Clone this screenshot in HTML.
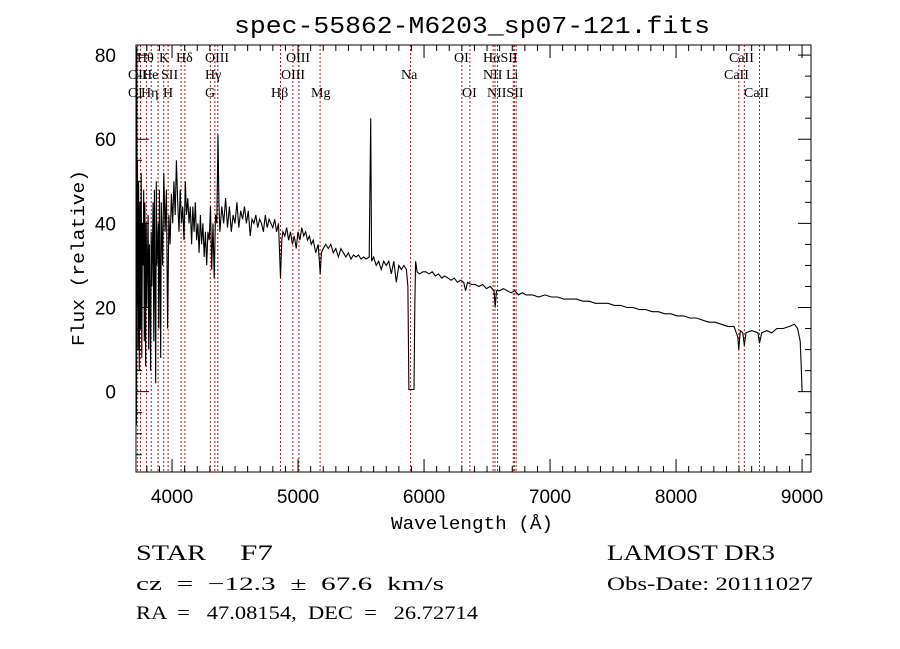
<!DOCTYPE html>
<html><head><meta charset="utf-8"><style>
html,body{margin:0;padding:0;background:#fff;}
svg{display:block;}
text{font-family:"Liberation Sans",sans-serif;fill:#000;}
.lbl{font-family:"Liberation Serif",serif;font-size:14px;}
.serif{font-family:"Liberation Serif",serif;}
.mono{font-family:"Liberation Mono",monospace;}
</style></head><body>
<svg id="chart" width="900" height="649" viewBox="0 0 900 649" xmlns="http://www.w3.org/2000/svg">
<rect width="900" height="649" fill="#fff"/>
<text class="mono" x="472" y="33" text-anchor="middle" font-size="24" textLength="476" lengthAdjust="spacingAndGlyphs">spec-55862-M6203_sp07-121.fits</text>
<g id="lines"></g>
<g id="linelabels">
<text class="lbl" x="137" y="62">Hθ</text><text class="lbl" x="159" y="62">K</text><text class="lbl" x="176" y="62">Hδ</text><text class="lbl" x="205" y="62">OIII</text><text class="lbl" x="286" y="62">OIII</text><text class="lbl" x="454" y="62">OI</text><text class="lbl" x="483" y="62">HαSII</text><text class="lbl" x="729" y="62">CaII</text>
<text class="lbl" x="128" y="79">OII</text><text class="lbl" x="142" y="79">He</text><text class="lbl" x="161" y="79">SII</text><text class="lbl" x="205" y="79">Hγ</text><text class="lbl" x="281" y="79">OIII</text><text class="lbl" x="401" y="79">Na</text><text class="lbl" x="483" y="79">NII</text><text class="lbl" x="506" y="79">Li</text><text class="lbl" x="724" y="79">CaII</text>
<text class="lbl" x="128" y="97">OI</text><text class="lbl" x="141" y="97">Hη</text><text class="lbl" x="163" y="97">H</text><text class="lbl" x="205" y="97">G</text><text class="lbl" x="271" y="97">Hβ</text><text class="lbl" x="311" y="97">Mg</text><text class="lbl" x="462" y="97">OI</text><text class="lbl" x="487" y="97">NIISII</text><text class="lbl" x="744" y="97">CaII</text>
</g>
<g id="ticks"></g>
<path id="spec" fill="none" stroke="#000" stroke-width="1.1"/>
<rect x="136" y="45" width="675" height="427" fill="none" stroke="#000" stroke-width="1"/>
<g id="ticklabels" font-size="19"></g>
<text class="mono" x="472" y="529" text-anchor="middle" font-size="18" textLength="162" lengthAdjust="spacingAndGlyphs">Wavelength (Å)</text>
<text class="mono" x="0" y="0" font-size="18" text-anchor="middle" transform="translate(84,258) rotate(-90)" textLength="176" lengthAdjust="spacingAndGlyphs">Flux (relative)</text>
<text class="serif" x="136" y="560" font-size="22" textLength="70" lengthAdjust="spacingAndGlyphs">STAR</text>
<text class="serif" x="240" y="560" font-size="22" textLength="33" lengthAdjust="spacingAndGlyphs">F7</text>
<text class="serif" x="607" y="560" font-size="22" textLength="168" lengthAdjust="spacingAndGlyphs">LAMOST DR3</text>
<text class="serif" x="136" y="590" font-size="19" textLength="308" lengthAdjust="spacingAndGlyphs" xml:space="preserve">cz  =  −12.3  ±  67.6  km/s</text>
<text class="serif" x="607" y="590" font-size="19" textLength="206" lengthAdjust="spacingAndGlyphs">Obs-Date: 20111027</text>
<text class="serif" x="136" y="619" font-size="19" textLength="342" lengthAdjust="spacingAndGlyphs" xml:space="preserve">RA  =   47.08154,  DEC  =   26.72714</text>
</svg>
<script>
const wave = [3716,3718,3720,3723,3725,3730,3735,3740,3745,3750,3755,3760,3765,3770,3775,3780,3785,3790,3795,3800,3810,3815,3820,3830,3835,3840,3850,3855,3860,3870,3875,3880,3890,3895,3900,3910,3915,3925,3935,3945,3955,3965,3975,3985,3995,4005,4015,4025,4035,4045,4055,4065,4075,4085,4095,4105,4115,4125,4135,4145,4155,4165,4175,4185,4195,4205,4215,4225,4235,4245,4255,4265,4275,4285,4295,4305,4315,4325,4335,4345,4355,4365,4372,4380,4395,4410,4425,4440,4455,4470,4485,4500,4515,4530,4545,4560,4575,4590,4605,4620,4635,4650,4665,4680,4695,4710,4725,4740,4755,4770,4785,4800,4815,4830,4845,4861,4871,4880,4895,4910,4925,4940,4955,4970,4985,5000,5015,5030,5045,5060,5075,5090,5105,5120,5140,5160,5176,5185,5200,5220,5240,5260,5280,5300,5320,5340,5360,5380,5400,5420,5440,5460,5480,5500,5520,5540,5565,5577,5584,5600,5620,5640,5660,5680,5700,5720,5740,5760,5780,5800,5820,5840,5860,5872,5880,5920,5927,5933,5945,5965,5990,6015,6040,6065,6090,6115,6140,6165,6190,6215,6240,6265,6290,6315,6330,6345,6375,6405,6435,6465,6495,6525,6555,6565,6575,6600,6630,6660,6690,6720,6750,6780,6810,6860,6910,6960,7010,7060,7110,7160,7210,7260,7310,7360,7410,7460,7510,7560,7610,7660,7710,7760,7810,7860,7910,7960,8010,8060,8110,8160,8210,8260,8310,8360,8410,8460,8490,8498,8510,8530,8542,8555,8600,8650,8662,8680,8720,8760,8800,8850,8900,8940,8965,8985,8995,9000];
const flux = [0,-8,82,20,55,10,50,5,45,15,52,8,40,30,48,12,45,6,40,20,42,10,35,5,38,25,45,12,48,2,50,30,40,15,48,8,45,30,52,38,48,15,42,35,47,40,50,42,55,45,38,48,40,44,36,50,42,46,40,44,35,44,38,45,36,40,33,42,35,40,32,38,30,38,36,44,29,40,27,42,40,61,45,38,44,40,46,39,44,38,42,40,45,39,43,41,44,40,43,37,41,40,42,39,41,40,38,42,39,41,40,39,41,38,40,27,36,38,37,39,36,38,35,37,34,38,36,39,37,38,36,37,35,36,33,35,28,33,34,35,34,35,33,34,32,34,33,32,33,31.5,32.5,32,32.5,31.5,32,31.5,32,65,31,32,30,31,29,31,30,31,28,31,26,30,29,30,29,25,0.5,0.5,20,31,28.5,28,28.5,28.5,28,28.5,27.5,28,27,27.5,27,26.5,27,26,26.5,26,24,26,25.5,25.5,25,25.5,24.5,25,24,20,24,24,24.5,24,23.5,24,23,23.5,23,23,22.5,23,22.5,22.5,22,22,22,21.5,21.5,21,21,21,20.5,20.5,20,20,19.5,19.5,19,19,18.5,18.5,18,18,17.5,17.5,17,16.5,16.5,16,15.5,15.5,13,10,14.5,14,11,14,14.5,14,11.5,14,14.5,14,15,15,15.5,16,15,12,5,0];
const lineWaves = [3727,3750,3798,3835,3889,3934,3969,4072,4102,4304,4340,4363,4861,4959,5007,5175,5893,6300,6364,6548,6563,6583,6708,6717,6731,8498,8542,8662];
const xTicks = [4000,5000,6000,7000,8000,9000];
const yTicks = [0,20,40,60,80];

const X0=136,X1=811,Y0=472,Y1=45;
const wMin=3714,wMax=9071,fMin=-19.1,fMax=82.4;
const sx=w=>X0+(w-wMin)/(wMax-wMin)*(X1-X0);
const sy=f=>Y0-(f-fMin)/(fMax-fMin)*(Y0-Y1);
const NS='http://www.w3.org/2000/svg';
function mk(tag,attrs,parent){const e=document.createElementNS(NS,tag);for(const k in attrs)e.setAttribute(k,attrs[k]);parent.appendChild(e);return e;}

const lg=document.getElementById('lines');
lineWaves.forEach(w=>{
  const l=mk('line',{x1:sx(w),x2:sx(w),y1:Y1,y2:Y0,stroke:'#b01818','stroke-width':1,'stroke-dasharray':'2,2'},lg);
  
  
});

let d='';
wave.forEach((w,i)=>{d+=(i?'L':'M')+sx(w).toFixed(1)+','+sy(flux[i]).toFixed(1);});
document.getElementById('spec').setAttribute('d',d);

const tg=document.getElementById('ticks');
for(let w=3800;w<=9000;w+=100){
  const major=w%1000===0,len=major?13:6,x=sx(w);
  mk('line',{x1:x,x2:x,y1:Y0,y2:Y0-len,stroke:'#000'},tg);
  mk('line',{x1:x,x2:x,y1:Y1,y2:Y1+len,stroke:'#000'},tg);
}
for(let f=-15;f<=80;f+=5){
  const major=f%20===0,len=major?13:6,y=sy(f);
  mk('line',{x1:X0,x2:X0+len,y1:y,y2:y,stroke:'#000'},tg);
  mk('line',{x1:X1,x2:X1-len,y1:y,y2:y,stroke:'#000'},tg);
}
const tl=document.getElementById('ticklabels');
xTicks.forEach(w=>{
  const t=mk('text',{x:sx(w),y:503,'text-anchor':'middle'},tl);t.textContent=w;
  
  
});
yTicks.forEach(f=>{
  const t=mk('text',{x:116,y:sy(f)+7,'text-anchor':'end'},tl);t.textContent=f;
  
  
});
</script>
</body></html>
